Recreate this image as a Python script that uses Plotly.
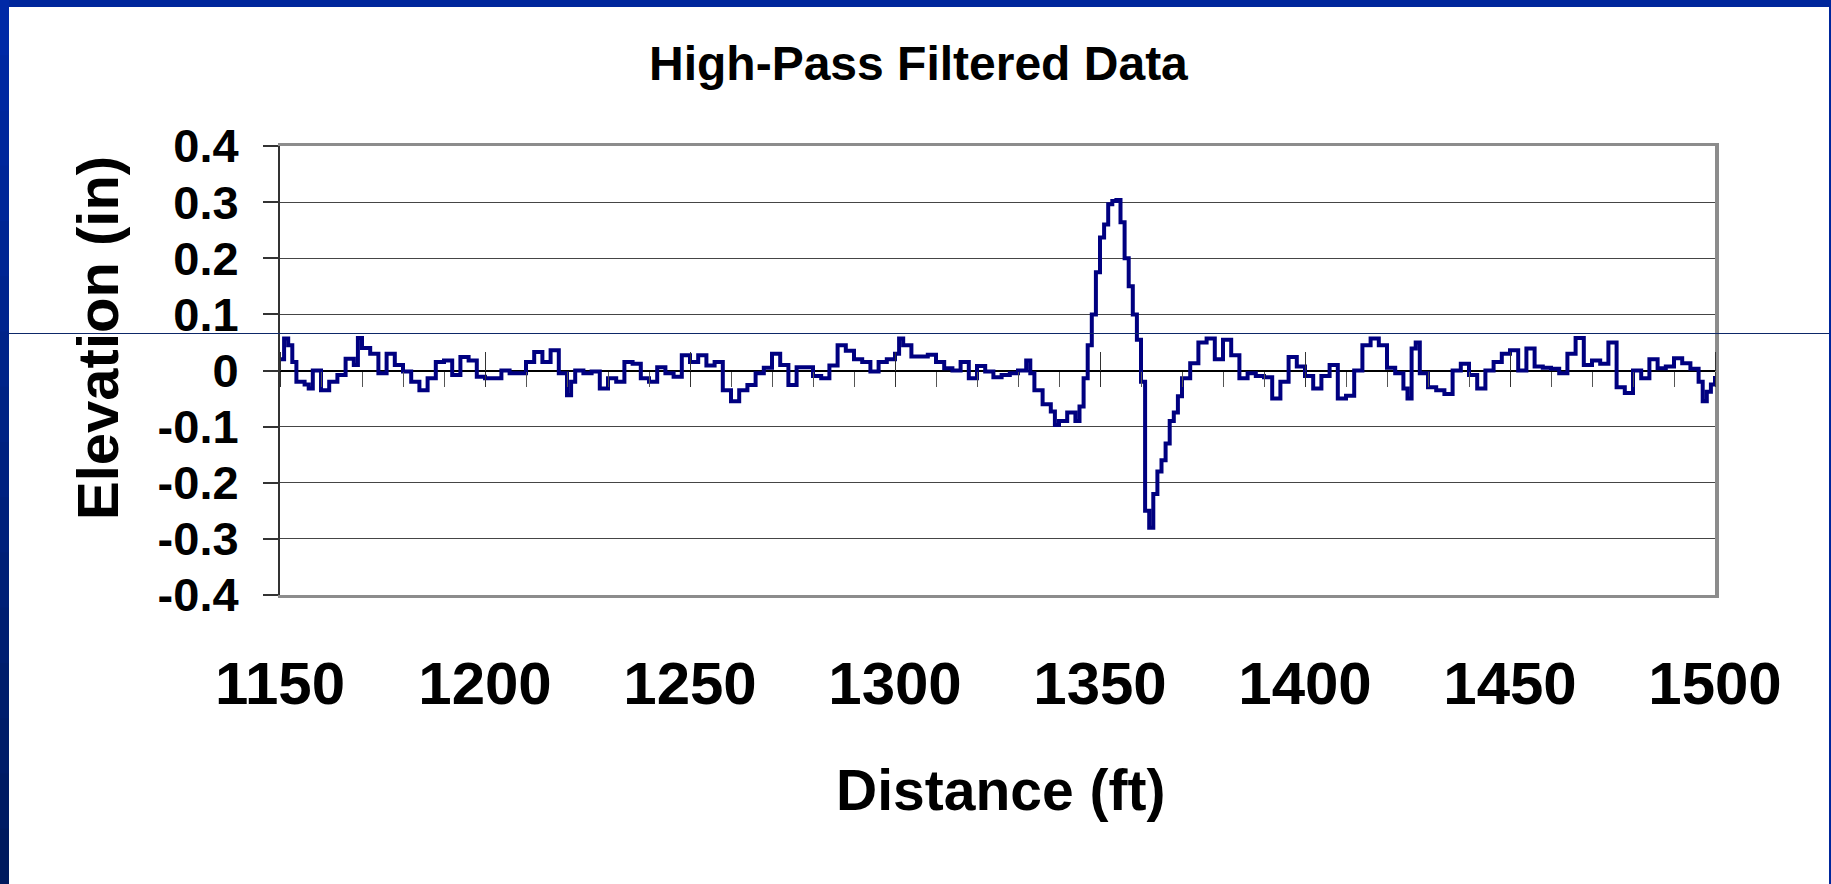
import plotly.graph_objects as go

# ---------------- data ----------------
distance_ft = [
    1150, 1151, 1152, 1153, 1154, 1156, 1157, 1158, 1160, 1162, 1164, 1166, 1168, 1169, 1170,
    1172, 1174, 1176, 1178, 1180, 1182, 1184, 1186, 1188, 1190, 1192, 1194, 1196, 1198, 1200,
    1202, 1204, 1206, 1208, 1210, 1212, 1214, 1216, 1218, 1220, 1221, 1222, 1224, 1226, 1228,
    1230, 1232, 1234, 1236, 1238, 1240, 1242, 1244, 1246, 1248, 1250, 1252, 1254, 1256, 1258,
    1260, 1262, 1264, 1266, 1268, 1270, 1272, 1274, 1276, 1278, 1280, 1282, 1284, 1286, 1288,
    1290, 1292, 1294, 1296, 1298, 1300, 1301, 1302, 1304, 1306, 1308, 1310, 1312, 1314, 1316,
    1318, 1320, 1322, 1324, 1326, 1328, 1330, 1332, 1333, 1334, 1336, 1338, 1339, 1340, 1342,
    1344, 1345, 1346, 1347, 1348, 1349, 1350, 1351, 1352, 1353, 1354, 1355, 1356, 1357, 1358,
    1359, 1360, 1361, 1362, 1363, 1364, 1365, 1366, 1367, 1368, 1369, 1370, 1372, 1374, 1376,
    1378, 1380, 1382, 1384, 1386, 1388, 1390, 1392, 1394, 1396, 1398, 1400, 1402, 1404, 1406,
    1408, 1410, 1412, 1414, 1416, 1418, 1420, 1422, 1424, 1425, 1426, 1427, 1428, 1430, 1432,
    1434, 1436, 1438, 1440, 1442, 1444, 1446, 1448, 1450, 1452, 1454, 1456, 1458, 1460, 1462,
    1464, 1466, 1468, 1470, 1472, 1474, 1476, 1478, 1480, 1482, 1484, 1486, 1488, 1490, 1492,
    1494, 1496, 1497, 1498, 1499, 1500,
]
elevation_in = [
    0.020, 0.057, 0.045, 0.015, -0.020, -0.025, -0.032, 0.000, -0.035, -0.020, -0.008, 0.021, 0.010, 0.058, 0.040,
    0.030, -0.005, 0.030, 0.010, -0.002, -0.020, -0.035, -0.014, 0.015, 0.018, -0.008, 0.024, 0.018, -0.011, -0.014,
    -0.014, 0.000, -0.005, -0.005, 0.015, 0.033, 0.015, 0.036, -0.005, -0.044, -0.020, 0.000, -0.005, -0.002, -0.032,
    -0.014, -0.020, 0.015, 0.012, -0.014, -0.020, 0.006, -0.005, -0.011, 0.027, 0.015, 0.027, 0.009, 0.015, -0.035,
    -0.055, -0.035, -0.026, -0.005, 0.005, 0.030, 0.010, -0.026, 0.006, 0.006, -0.010, -0.014, 0.009, 0.045, 0.035,
    0.020, 0.015, -0.002, 0.015, 0.020, 0.030, 0.057, 0.045, 0.025, 0.025, 0.028, 0.015, 0.004, 0.000, 0.015,
    -0.014, 0.008, -0.002, -0.012, -0.008, -0.005, 0.000, 0.018, -0.005, -0.035, -0.060, -0.073, -0.097, -0.090, -0.075,
    -0.090, -0.064, -0.014, 0.045, 0.100, 0.175, 0.237, 0.260, 0.296, 0.302, 0.304, 0.264, 0.200, 0.150, 0.100,
    0.055, -0.020, -0.250, -0.280, -0.220, -0.180, -0.160, -0.130, -0.090, -0.075, -0.046, -0.014, 0.013, 0.050, 0.057,
    0.020, 0.055, 0.027, -0.014, -0.005, -0.010, -0.012, -0.050, -0.020, 0.024, 0.007, -0.010, -0.032, -0.010, 0.010,
    -0.050, -0.045, 0.000, 0.045, 0.057, 0.045, 0.005, -0.005, -0.032, -0.050, 0.039, 0.050, -0.005, -0.030, -0.035,
    -0.042, 0.000, 0.012, -0.008, -0.032, 0.000, 0.015, 0.030, 0.036, 0.000, 0.039, 0.007, 0.005, 0.003, -0.005,
    0.030, 0.058, 0.010, 0.018, 0.012, 0.050, -0.030, -0.040, 0.000, -0.014, 0.020, 0.004, 0.007, 0.022, 0.013,
    0.003, -0.020, -0.055, -0.038, -0.025, -0.010,
]
x_ticks = [1150, 1200, 1250, 1300, 1350, 1400, 1450, 1500]
x_tick_labels = ["1150", "1200", "1250", "1300", "1350", "1400", "1450", "1500"]
y_ticks = [-0.4, -0.3, -0.2, -0.1, 0, 0.1, 0.2, 0.3, 0.4]
y_tick_labels = ["-0.4", "-0.3", "-0.2", "-0.1", "0", "0.1", "0.2", "0.3", "0.4"]
title_text = "High-Pass Filtered Data"
x_title = "Distance (ft)"
y_title = "Elevation (in)"

# ---------------- layout geometry ----------------
W, H = 1831, 884
L, R, T, B = 280, 1715, 146, 595
PW, PH = R - L, B - T
FONT = "Liberation Sans, Arial, sans-serif"


def px(x):
    return (x - L) / PW


def py(y):
    return (B - y) / PH


XR = [1150, 1500]
YR = [-0.4, 0.4]

fig = go.Figure()
fig.add_trace(go.Scatter(
    x=distance_ft, y=elevation_in, mode="lines", xaxis="x", yaxis="y",
    line=dict(color="#000080", width=4, shape="hv"),
    showlegend=False, hoverinfo="skip",
))
# helper (empty) traces so that the tick-only overlay axes get drawn
fig.add_trace(go.Scatter(x=[None], y=[None], xaxis="x2", yaxis="y", showlegend=False))
fig.add_trace(go.Scatter(x=[None], y=[None], xaxis="x3", yaxis="y", showlegend=False))
fig.add_trace(go.Scatter(x=[None], y=[None], xaxis="x", yaxis="y2", showlegend=False))

shapes = []
# stray slide line crossing the page
shapes.append(dict(type="line", xref="paper", yref="paper", x0=px(8), x1=px(1829),
                   y0=py(333.5), y1=py(333.5), line=dict(color="#0d2868", width=1), layer="above"))
# blue slide frame
shapes.append(dict(type="rect", xref="paper", yref="paper", x0=px(0), x1=px(W),
                   y0=py(0), y1=py(7), line=dict(width=0), fillcolor="#00279c", layer="above"))
shapes.append(dict(type="rect", xref="paper", yref="paper", x0=px(1829), x1=px(W),
                   y0=py(0), y1=py(H), line=dict(width=0), fillcolor="#00279c", layer="above"))
n_band = 16
c0 = (0, 41, 166)
c1 = (0, 26, 94)
for i in range(n_band):
    f = i / (n_band - 1)
    col = "rgb(%d,%d,%d)" % tuple(round(a + (b - a) * f) for a, b in zip(c0, c1))
    shapes.append(dict(type="rect", xref="paper", yref="paper", x0=px(0), x1=px(9),
                       y0=py(H * i / n_band), y1=py(H * (i + 1) / n_band + 1),
                       line=dict(width=0), fillcolor=col, layer="above"))

annotations = [
    dict(text=title_text, xref="paper", yref="paper", x=px(918), y=py(64), xanchor="center",
         yanchor="middle", showarrow=False,
         font=dict(family=FONT, size=48, color="black", weight="bold")),
    dict(text=x_title, xref="paper", yref="paper", x=px(1000), y=py(790), xanchor="center",
         yanchor="middle", showarrow=False,
         font=dict(family=FONT, size=57, color="black", weight="bold")),
    dict(text=y_title, xref="paper", yref="paper", x=px(97), y=py(338), xanchor="center",
         yanchor="middle", showarrow=False, textangle=-90,
         font=dict(family=FONT, size=58, color="black", weight="bold")),
]

fig.update_layout(
    width=W, height=H,
    margin=dict(l=L, r=W - R, t=T, b=H - B, pad=0),
    paper_bgcolor="white", plot_bgcolor="white",
    showlegend=False,
    xaxis=dict(range=XR, domain=[0, 1], anchor="y", tickmode="array", tickvals=x_ticks,
               ticktext=x_tick_labels, ticks="", showgrid=False, zeroline=False,
               showline=True, mirror=True, linecolor="#8c8c8c", linewidth=3,
               ticklabelstandoff=34,
               tickfont=dict(family=FONT, size=60, color="black", weight="bold")),
    xaxis2=dict(range=XR, overlaying="x", anchor="free", position=0.5,
                showline=False,
                ticks="outside", ticklen=15, tickwidth=1.2, tickcolor="#333",
                tickmode="linear", tick0=1150, dtick=50, showticklabels=False,
                showgrid=False, zeroline=False,
                minor=dict(ticks="outside", ticklen=15, tickwidth=1.2, tickcolor="#555",
                           tickmode="linear", tick0=1150, dtick=10, showgrid=False)),
    xaxis3=dict(range=XR, overlaying="x", anchor="free", position=0.5, side="top",
                showline=False, ticks="outside", ticklen=19, tickwidth=1.2, tickcolor="#333",
                tickmode="linear", tick0=1150, dtick=50, showticklabels=False,
                showgrid=False, zeroline=False),
    yaxis=dict(range=YR, domain=[0, 1], anchor="x", tickmode="array", tickvals=y_ticks,
               ticktext=y_tick_labels, ticks="outside", ticklen=15, tickwidth=1.5,
               tickcolor="#333", showline=True, linecolor="#333", linewidth=2,
               showgrid=True, gridcolor="#454545", gridwidth=1,
               zeroline=True, zerolinecolor="black", zerolinewidth=1.5,
               ticklabelstandoff=15,
               tickfont=dict(family=FONT, size=47, color="black", weight="bold")),
    yaxis2=dict(range=YR, overlaying="y", anchor="x", side="right", showline=True,
                linecolor="#8c8c8c", linewidth=4, ticks="", showticklabels=False,
                showgrid=False, zeroline=False),
    shapes=shapes,
    annotations=annotations,
)

fig.write_html(
    "out.html",
    config={"displayModeBar": False},
    post_script="document.body.style.margin='0px';document.body.style.overflow='hidden';",
)
